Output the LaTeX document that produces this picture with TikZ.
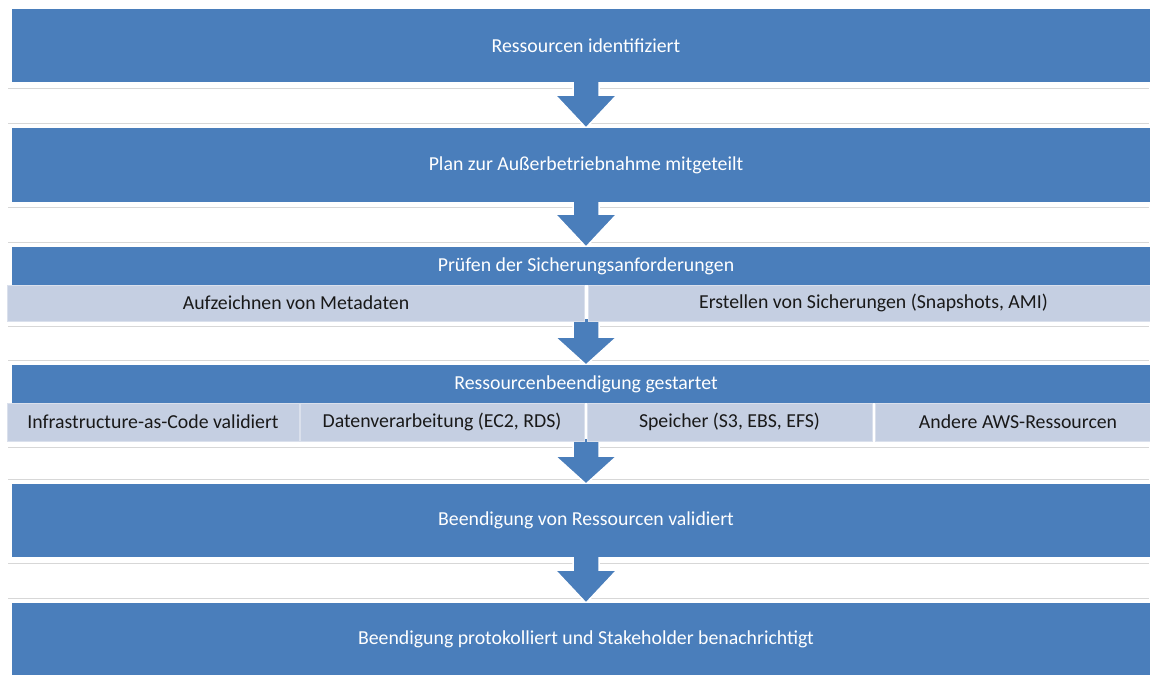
\documentclass[tikz,border=0pt]{standalone}
\usepackage{fontspec}
\setmainfont{Carlito}
\definecolor{mainblue}{RGB}{74,126,187}
\definecolor{subfill}{RGB}{197,207,226}
\definecolor{subedge}{RGB}{218,224,236}
\definecolor{gapline}{RGB}{215,215,215}
\definecolor{subtext}{RGB}{25,25,25}
\tikzset{
  mainbox/.style={fill=mainblue, draw=none, text=white, inner sep=0pt,
    font=\fontsize{19.8}{23}\selectfont},
  subbox/.style={fill=subfill, draw=subedge, line width=1pt, text=subtext, inner sep=0pt,
    font=\fontsize{19.8}{23}\selectfont},
  gap/.style={draw=gapline, line width=0.8pt},
  flowarrow/.style={fill=mainblue, draw=white, line width=1.5pt, line join=miter}
}
% #1 top y, #2 tip y, #3 head length
\newcommand{\myflowarrow}[3]{%
  \path[flowarrow] (573,#1) -- (599,#1) -- (599,#2-#3) -- (617,#2-#3) -- (586,#2)
     -- (555,#2-#3) -- (573,#2-#3) -- cycle;}
\newcommand{\mygap}[2]{%
  \draw[gap] (8,#1) -- (1149,#1);
  \draw[gap] (8,#2) -- (1149,#2);}
\begin{document}
\begin{tikzpicture}[x=1pt,y=-1pt]
\useasboundingbox (0,0) rectangle (1150,675);
\fill[white] (0,0) rectangle (1150,675);
% gap lines
\mygap{88}{123}
\mygap{207}{242}
\mygap{326}{360}
\mygap{447}{479}
\mygap{563}{598}
% arrows
\myflowarrow{78}{128}{33}
\myflowarrow{198}{247}{33}
\myflowarrow{318}{365}{28}
\myflowarrow{438}{484}{28}
\myflowarrow{553}{603}{33}
% main boxes
\node[mainbox, minimum width=1148pt, minimum height=73pt] (b1) at (586,45.5) {Ressourcen identifiziert};
\node[mainbox, minimum width=1148pt, minimum height=74pt] (b2) at (586,165) {Plan zur Außerbetriebnahme mitgeteilt};
\node[mainbox, minimum width=1148pt, minimum height=38pt] (b3) at (586,266) {Prüfen der Sicherungsanforderungen};
\node[subbox, minimum width=577pt, minimum height=36pt] (b3a) at (296,303) {Aufzeichnen von Metadaten};
\node[subbox, minimum width=571pt, minimum height=36pt] (b3b) at (873.5,303) {Erstellen von Sicherungen (Snapshots, AMI)};
\node[mainbox, minimum width=1148pt, minimum height=38pt] (b4) at (586,384) {Ressourcenbeendigung gestartet};
\node[subbox, minimum width=292pt, minimum height=38pt] (b4a) at (153,422) {Infrastructure-as-Code validiert};
\node[subbox, minimum width=284pt, minimum height=38pt] (b4b) at (442,422) {Datenverarbeitung (EC2, RDS)};
\node[subbox, minimum width=285pt, minimum height=38pt] (b4c) at (729.5,422) {Speicher (S3, EBS, EFS)};
\node[subbox, minimum width=286pt, minimum height=38pt] (b4d) at (1018,422) {Andere AWS-Ressourcen};
\node[mainbox, minimum width=1148pt, minimum height=73pt] (b5) at (586,520.5) {Beendigung von Ressourcen validiert};
\node[mainbox, minimum width=1148pt, minimum height=72pt] (b6) at (586,639) {Beendigung protokolliert und Stakeholder benachrichtigt};
\end{tikzpicture}
\end{document}
